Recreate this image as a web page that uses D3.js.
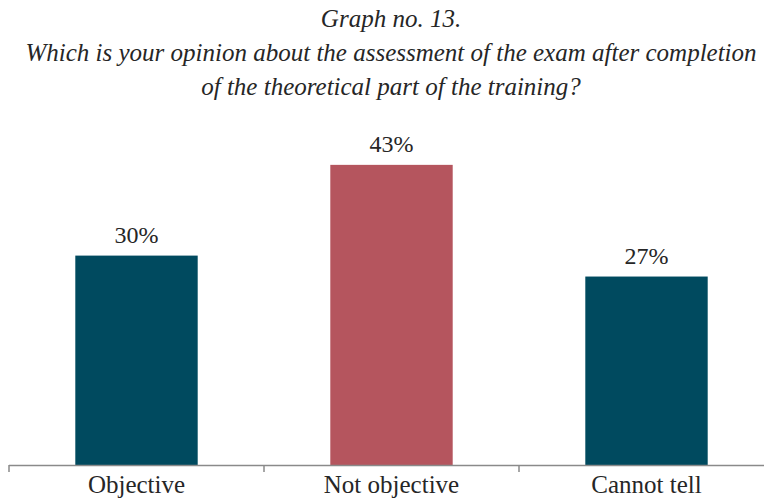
<!DOCTYPE html>
<html>
<head>
<meta charset="utf-8">
<script src="https://cdn.jsdelivr.net/npm/d3@7/dist/d3.min.js"></script>
<style>
  html, body { margin: 0; padding: 0; background: #ffffff; }
  svg { display: block; }
</style>
</head>
<body>
<div id="chart"></div>
<script>
// Survey answers: share of respondents per answer
const categories = ["Objective", "Not objective", "Cannot tell"];
const shares = [0.30, 0.43, 0.27];
const barColors = ["#004a5f", "#b5555e", "#004a5f"];
const titleLines = [
  "Graph no. 13.",
  "Which is your opinion about the assessment of the exam after completion",
  "of the theoretical part of the training?"
];

const W = 764, H = 499;
const baseY = 465;

const svg = d3.select("#chart").append("svg")
  .attr("width", W).attr("height", H);

// Title block
const title = svg.append("g")
  .attr("font-family", "'Liberation Serif', 'Times New Roman', serif")
  .attr("font-style", "italic")
  .attr("font-size", 25)
  .attr("fill", "#262626")
  .attr("text-anchor", "middle");
title.selectAll("text").data(titleLines).join("text")
  .attr("x", 391)
  .attr("y", (d, i) => 27 + i * 34)
  .text(d => d);

// Scales
const x = d3.scaleBand().domain(categories).range([9, 774]).padding(0);
const y = d3.scaleLinear().domain([0, 0.5]).range([baseY, baseY - 349]);
const barW = x.bandwidth() * 0.48;

const data = categories.map((c, i) => ({ cat: c, v: shares[i], color: barColors[i] }));

// Bars
svg.append("g").selectAll("rect").data(data).join("rect")
  .attr("x", d => x(d.cat) + x.bandwidth() / 2 - barW / 2)
  .attr("y", d => y(d.v))
  .attr("width", barW)
  .attr("height", d => y(0) - y(d.v))
  .attr("fill", d => d.color);

// Value labels
svg.append("g")
  .attr("font-family", "'Liberation Serif', 'Times New Roman', serif")
  .attr("font-size", 24)
  .attr("fill", "#262626")
  .attr("text-anchor", "middle")
  .selectAll("text").data(data).join("text")
  .attr("x", d => x(d.cat) + x.bandwidth() / 2)
  .attr("y", d => y(d.v) - 13)
  .text(d => d3.format(".0%")(d.v));

// Category axis: baseline with ticks at band edges
const axis = svg.append("g").attr("stroke", "#8a8a8a").attr("stroke-width", 1.5);
axis.append("line")
  .attr("x1", x.range()[0]).attr("x2", W)
  .attr("y1", baseY + 0.5).attr("y2", baseY + 0.5);
axis.selectAll("line.tick").data(categories).join("line")
  .attr("class", "tick")
  .attr("x1", d => x(d)).attr("x2", d => x(d))
  .attr("y1", baseY).attr("y2", baseY + 7);

svg.append("g")
  .attr("font-family", "'Liberation Serif', 'Times New Roman', serif")
  .attr("font-size", 25)
  .attr("fill", "#262626")
  .attr("text-anchor", "middle")
  .selectAll("text").data(categories).join("text")
  .attr("x", d => x(d) + x.bandwidth() / 2)
  .attr("y", 492.5)
  .text(d => d);
</script>
</body>
</html>
